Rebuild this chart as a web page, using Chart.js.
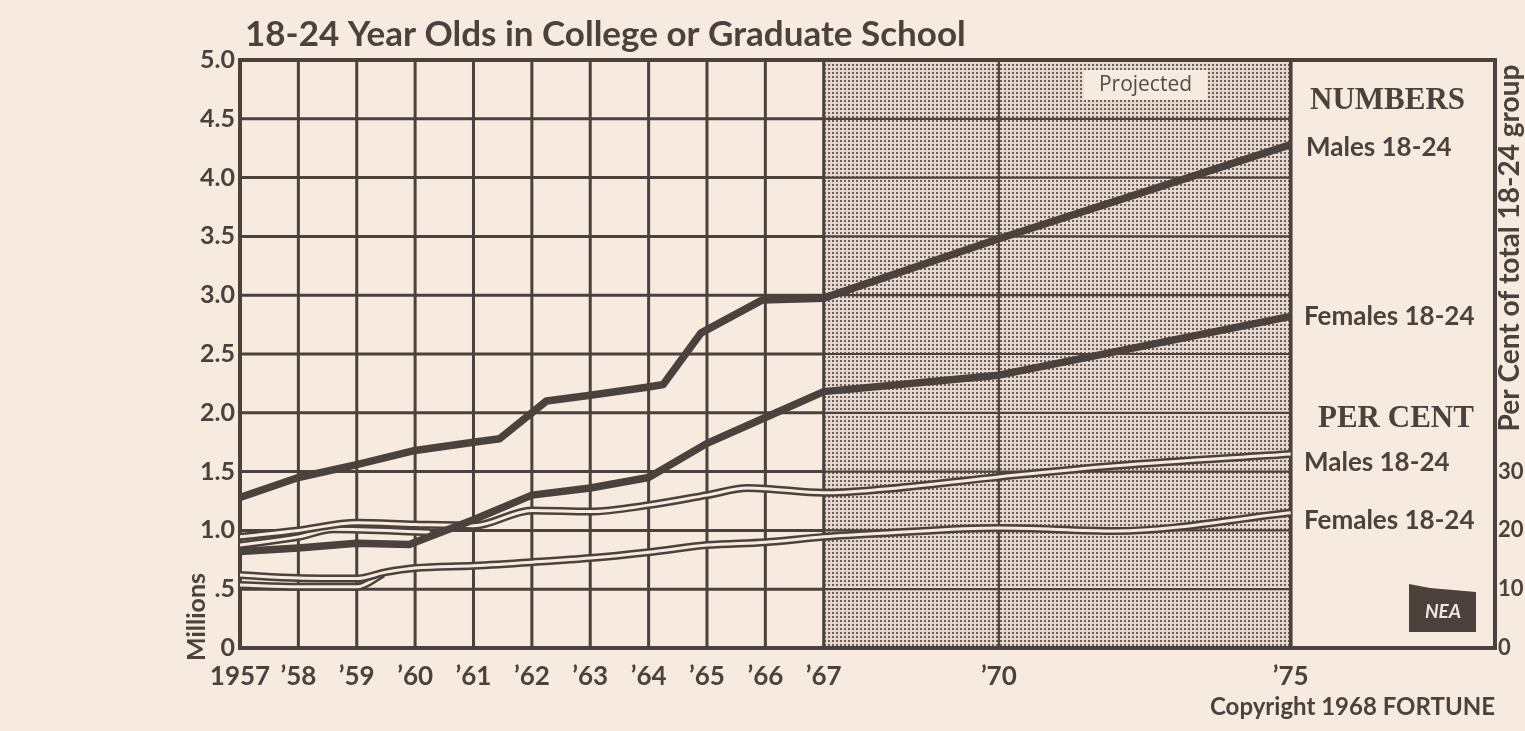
<!DOCTYPE html>
<html><head><meta charset="utf-8">
<script src="https://cdn.jsdelivr.net/npm/chart.js@4.4.1/dist/chart.umd.min.js"></script>
<style>
html,body{margin:0;padding:0;background:#f7eadf;}
canvas{display:block;}
</style></head><body>
<canvas id="c" width="1525" height="731"></canvas>
<script>
// ---- data ----
const tickYears = [1957,1958,1959,1960,1961,1962,1963,1964,1965,1966,1967,1970,1975];
const millionTicks = [0,0.5,1,1.5,2,2.5,3,3.5,4,4.5,5];
const pctTicks = [0,10,20,30];

const malesNumYears  = [1957,1958,1959,1960,1961,1961.45,1962.25,1963,1964,1964.25,1964.9,1965.95,1967,1970,1975];
const malesNumValues = [1.28,1.45,1.56,1.68,1.75,1.78,2.10,2.15,2.22,2.24,2.68,2.96,2.975,3.48,4.28];

const femalesNumYears  = [1957,1958,1959,1959.9,1961,1962,1963,1964,1965,1966,1967,1970,1975];
const femalesNumValues = [0.82,0.85,0.89,0.88,1.09,1.30,1.36,1.45,1.74,1.96,2.18,2.32,2.82];

const malesPctYears  = [1957,1958,1959,1960,1961,1962,1963,1964,1965,1965.7,1966,1967,1968,1970,1972,1975];
const malesPctValues = [18.9,20.0,21.3,21.0,20.8,23.4,23.2,24.3,26.0,27.2,27.1,26.4,27.0,29.1,31.0,33.0];

const malesPctAltYears  = [1957,1958,1958.6,1960.25];
const malesPctAltValues = [17.5,18.9,20.2,19.7];

const femalesPctYears  = [1957,1958,1959,1959.5,1960,1961,1962,1963,1964,1965,1966,1967,1968,1970,1972,1975];
const femalesPctValues = [12.4,11.9,11.8,12.9,13.6,14.0,14.6,15.3,16.3,17.5,18.0,18.9,19.5,20.4,19.9,23.0];

const femalesPctAltYears  = [1957,1958,1959,1959.45];
const femalesPctAltValues = [10.7,10.4,10.4,12.6];

// ---- styling ----
const INK = '#4b413d';
const PAPER = '#f7eadf';
const pts = (xs, ys) => xs.map((x, i) => ({x, y: ys[i]}));

function thick(label, xs, ys, order) {
  return {label, data: pts(xs, ys), yAxisID: 'y', borderColor: INK, borderWidth: 7.5,
    pointRadius: 0, tension: 0, order, borderJoinStyle: 'round', borderCapStyle: 'butt'};
}
function dbl(label, xs, ys, order) {
  return [
    {label: label + ' edge', data: pts(xs, ys), yAxisID: 'y2', borderColor: INK, borderWidth: 8,
      pointRadius: 0, cubicInterpolationMode: 'monotone', order: order + 1},
    {label, data: pts(xs, ys), yAxisID: 'y2', borderColor: PAPER, borderWidth: 3,
      pointRadius: 0, cubicInterpolationMode: 'monotone', order: order}
  ];
}

const datasets = [
  thick('Males 18-24 (numbers)', malesNumYears, malesNumValues, 1),
  thick('Females 18-24 (numbers)', femalesNumYears, femalesNumValues, 2),
  ...dbl('Males 18-24 (per cent)', malesPctYears, malesPctValues, 10),
  ...dbl('Males 18-24 (per cent, alt)', malesPctAltYears, malesPctAltValues, 12),
  ...dbl('Females 18-24 (per cent)', femalesPctYears, femalesPctValues, 14),
  ...dbl('Females 18-24 (per cent, alt)', femalesPctAltYears, femalesPctAltValues, 16),
];

// dotted pattern for projected zone
function makePattern(ctx) {
  const t = document.createElement('canvas');
  t.width = 4; t.height = 4;
  const g = t.getContext('2d');
  g.fillStyle = '#e6d8ce'; g.fillRect(0, 0, 4, 4);
  g.fillStyle = '#6a5f5a'; g.fillRect(0, 0, 2, 2);
  return ctx.createPattern(t, 'repeat');
}

const paperPlugin = {
  id: 'paper',
  beforeDraw(chart) {
    const c = chart.ctx;
    c.save(); c.fillStyle = PAPER; c.fillRect(0, 0, chart.width, chart.height); c.restore();
  },
  beforeDatasetsDraw(chart) {
    const c = chart.ctx, x = chart.scales.x, y = chart.scales.y, a = chart.chartArea;
    const top = y.getPixelForValue(5), bot = y.getPixelForValue(0);
    const x0 = x.getPixelForValue(1957), x67 = x.getPixelForValue(1967), x75 = x.getPixelForValue(1975);
    c.save();
    // projected shading
    c.fillStyle = makePattern(c);
    c.fillRect(x67, top, x75 - x67, bot - top);
    // Projected label box
    c.fillStyle = PAPER;
    c.fillRect(x.getPixelForValue(1971.45), top + 10, 124, 30);
    c.fillStyle = '#554b46';
    c.font = '21px "Open Sans", sans-serif';
    c.textAlign = 'center'; c.textBaseline = 'middle';
    c.fillText('Projected', x.getPixelForValue(1971.45) + 62, top + 25);
    // horizontal grid
    c.strokeStyle = INK;
    millionTicks.forEach(v => {
      if (v === 0 || v === 5) return;
      const py = y.getPixelForValue(v);
      c.lineWidth = 3;
      c.beginPath(); c.moveTo(x0, py); c.lineTo(x67, py); c.stroke();
      c.lineWidth = 2.2;
      c.beginPath(); c.moveTo(x67, py); c.lineTo(x75, py); c.stroke();
    });
    // vertical grid
    tickYears.forEach(v => {
      const px = x.getPixelForValue(v);
      c.lineWidth = v === 1970 ? 2.2 : 3;
      c.beginPath(); c.moveTo(px, top); c.lineTo(px, bot); c.stroke();
    });
    // frame
    c.lineWidth = 4;
    c.strokeRect(x0, top, a.right - x0, bot - top);
    c.lineWidth = 3.5;
    c.beginPath(); c.moveTo(x75, top); c.lineTo(x75, bot); c.stroke();
    c.restore();
  },
  afterDatasetsDraw(chart) {
    const c = chart.ctx;
    c.save();
    c.fillStyle = INK;
    c.textBaseline = 'middle';
    c.textAlign = 'left';
    // title
    c.font = 'bold 35px Lato, sans-serif';
    c.fillText('18-24 Year Olds in College or Graduate School', 245, 35);
    // legend block
    c.font = 'bold 31px "Liberation Serif", serif';
    c.fillText('NUMBERS', 1310, 101);
    c.fillText('PER CENT', 1318, 419);
    c.font = 'bold 26px Lato, sans-serif';
    c.fillText('Males 18-24', 1306, 148);
    c.fillText('Females 18-24', 1304, 317);
    c.fillText('Males 18-24', 1304, 463);
    c.fillText('Females 18-24', 1304, 521);
    // NEA logo
    c.beginPath();
    c.moveTo(1409, 584); c.lineTo(1430, 588); c.lineTo(1476, 592);
    c.lineTo(1476, 632); c.lineTo(1409, 632); c.closePath(); c.fill();
    c.fillStyle = '#f3e6dc';
    c.font = 'italic bold 19px Lato, sans-serif';
    c.textAlign = 'center';
    c.fillText('NEA', 1443, 612);
    // copyright
    c.fillStyle = INK;
    c.textAlign = 'right';
    c.font = 'bold 24px Lato, sans-serif';
    c.fillText('Copyright 1968 FORTUNE', 1495, 707);
    // rotated axis titles
    c.textAlign = 'center';
    c.save();
    c.translate(197, 617); c.rotate(-Math.PI / 2);
    c.font = 'bold 25px Lato, sans-serif';
    c.fillText('Millions', 0, 0);
    c.restore();
    c.save();
    c.translate(1510, 248); c.rotate(-Math.PI / 2);
    c.font = 'bold 28px Lato, sans-serif';
    c.fillText('Per Cent of total 18-24 group', 0, 0);
    c.restore();
    c.restore();
  }
};

new Chart(document.getElementById('c'), {
  type: 'line',
  data: {datasets},
  options: {
    responsive: false,
    devicePixelRatio: 1,
    animation: false,
    layout: {padding: {top: 60, left: 0, right: 0, bottom: 0}},
    plugins: {legend: {display: false}, tooltip: {enabled: false}, title: {display: false}},
    scales: {
      x: {
        type: 'linear', position: 'bottom', min: 1957, max: 1978.5,
        grid: {display: false, drawTicks: false}, border: {display: false},
        afterBuildTicks: s => { s.ticks = tickYears.map(v => ({value: v})); },
        afterFit: s => { s.height = 83; },
        ticks: {
          autoSkip: false, maxRotation: 0, padding: 13, color: INK,
          font: {family: 'Lato', weight: 'bold', size: 26},
          callback: v => v === 1957 ? '1957' : '\u2019' + String(v - 1900)
        }
      },
      y: {
        position: 'left', min: 0, max: 5,
        grid: {display: false, drawTicks: false}, border: {display: false},
        afterBuildTicks: s => { s.ticks = millionTicks.map(v => ({value: v})); },
        afterFit: s => { s.width = 240; },
        ticks: {
          padding: 5, color: INK,
          font: {family: 'Lato', weight: 'bold', size: 25},
          callback: v => v === 0 ? '0' : v === 0.5 ? '.5' : v.toFixed(1)
        }
      },
      y2: {
        position: 'right', min: 0, max: 100,
        grid: {display: false, drawTicks: false}, border: {display: false},
        afterBuildTicks: s => { s.ticks = pctTicks.map(v => ({value: v})); },
        afterFit: s => { s.width = 30; },
        ticks: {
          padding: 3, color: INK,
          font: {family: 'Lato', weight: 'bold', size: 22},
          callback: v => String(v)
        }
      }
    }
  },
  plugins: [paperPlugin]
});
</script>
</body></html>
